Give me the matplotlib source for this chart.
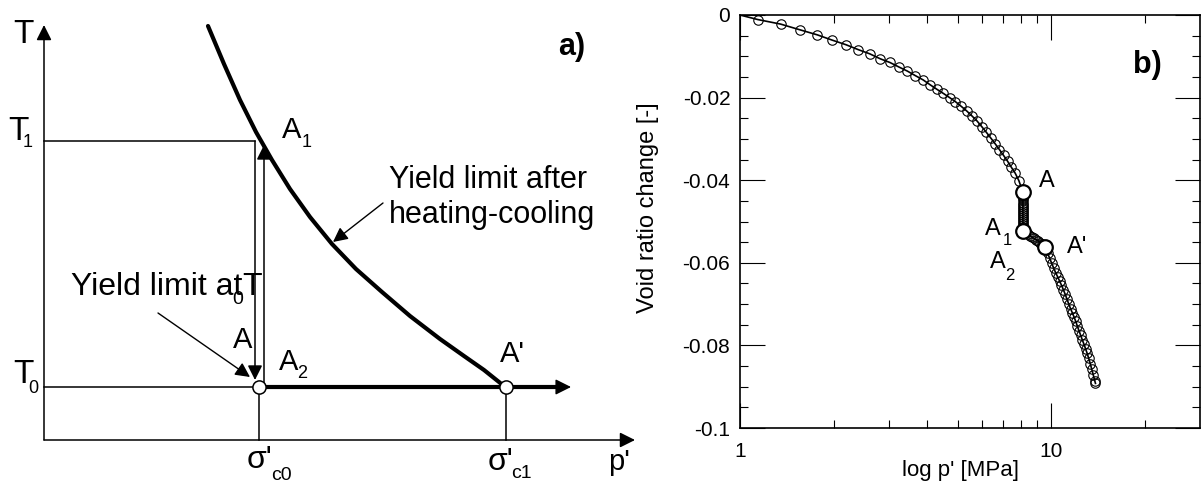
import matplotlib
matplotlib.use('Agg')
import matplotlib.pyplot as plt
from matplotlib.ticker import FixedLocator, FixedFormatter, NullFormatter

plt.rcParams['font.family'] = ['Liberation Sans', 'DejaVu Sans']

# ---------------- data: panel a) schematic (p' horizontal, T vertical) ----------------
p_axis_end = 591
T_axis_end = 415
sig_c0 = 215
sig_c1 = 462
T0 = 53
T1 = 299
heat_x = 220      # A -> A1 path (heating)
cool_x = 211      # A1 -> A2 path (cooling)
curve_p = [164, 180, 196, 212, 228, 246, 266, 288, 312, 338, 366, 396, 420, 440, 455, 461]
curve_T = [414, 376, 340, 308, 280, 251, 223, 196, 171, 148, 124, 101, 84, 70, 58, 53]

# ---------------- data: panel b) void ratio change vs log p' ----------------
p_start = [1.0]
e_start = [0.0]
p_load = [1.14, 1.35, 1.56, 1.77, 1.98, 2.19, 2.40, 2.61, 2.82, 3.03, 3.24, 3.45,
          3.66, 3.87, 4.08, 4.29, 4.50, 4.71, 4.92, 5.13, 5.34, 5.55, 5.76, 5.97,
          6.18, 6.39, 6.60, 6.81, 7.02, 7.23, 7.44, 7.65, 7.86, 8.10]
e_load = [-0.0011, -0.0022, -0.0036, -0.0048, -0.0061, -0.0072, -0.0084, -0.0094,
          -0.0106, -0.0115, -0.0126, -0.0136, -0.0147, -0.0157, -0.0169, -0.0180,
          -0.0190, -0.0200, -0.0210, -0.0221, -0.0232, -0.0244, -0.0256, -0.0270,
          -0.0284, -0.0298, -0.0312, -0.0326, -0.0340, -0.0354, -0.0369, -0.0383,
          -0.0401, -0.0429]
p_heat = [8.10] * 20
e_heat = [-0.0429, -0.0434, -0.0439, -0.0444, -0.0449, -0.0454, -0.0459, -0.0464,
          -0.0469, -0.0474, -0.0479, -0.0484, -0.0489, -0.0494, -0.0499, -0.0504,
          -0.0509, -0.0514, -0.0519, -0.0524]
p_reload = [8.10, 8.24, 8.38, 8.52, 8.66, 8.80, 8.94, 9.08, 9.22, 9.36, 9.50, 9.57]
e_reload = [-0.0524, -0.0527, -0.0531, -0.0534, -0.0538, -0.0541, -0.0544, -0.0548,
            -0.0551, -0.0555, -0.0559, -0.0562]
p_after = [9.57, 9.72, 9.87, 10.02, 10.17, 10.32, 10.47, 10.62, 10.77, 10.92, 11.07,
           11.22, 11.37, 11.52, 11.67, 11.82, 11.97, 12.12, 12.27, 12.42, 12.57, 12.72,
           12.87, 13.02, 13.17, 13.32, 13.47, 13.62, 13.77, 13.85]
e_after = [-0.0562, -0.0576, -0.0589, -0.0601, -0.0613, -0.0624, -0.0634, -0.0644,
           -0.0654, -0.0665, -0.0676, -0.0688, -0.0700, -0.0711, -0.0721, -0.0731,
           -0.0742, -0.0754, -0.0765, -0.0776, -0.0787, -0.0797, -0.0808, -0.0819,
           -0.0831, -0.0844, -0.0857, -0.0871, -0.0885, -0.0892]
key_names = ['A', 'A1', "A'"]
key_p = [8.10, 8.10, 9.57]
key_e = [-0.0429, -0.0524, -0.0562]

x_major = [1, 10]
x_major_labels = ['1', '10']
x_minor = [2, 3, 4, 5, 6, 7, 8, 9, 20]
y_major = [0, -0.02, -0.04, -0.06, -0.08, -0.1]
y_major_labels = ['0', '-0.02', '-0.04', '-0.06', '-0.08', '-0.1']
y_minor = [-0.005, -0.01, -0.015, -0.025, -0.03, -0.035, -0.045, -0.05, -0.055,
           -0.065, -0.07, -0.075, -0.085, -0.09, -0.095]

fig = plt.figure(figsize=(12.02, 4.86), dpi=100)

# ======================= panel a) =======================
axl = fig.add_axes([0, 0, 661 / 1202, 1])
axl.set_xlim(-44, 617)
axl.set_ylim(-46, 440)
axl.axis('off')


def arrow(ax, start, tip, lw=1.1, ms=23, z=3):
    ax.annotate('', xy=tip, xytext=start,
                arrowprops=dict(arrowstyle='-|>', mutation_scale=ms, lw=lw,
                                color='k', shrinkA=0, shrinkB=0),
                zorder=z)


# axes
arrow(axl, (0, 0), (0, T_axis_end))
arrow(axl, (0, 0), (p_axis_end, 0))

# thin reference lines
axl.plot([0, cool_x], [T1, T1], color='k', lw=1.1)
axl.plot([0, sig_c0], [T0, T0], color='k', lw=1.1)
axl.plot([sig_c0, sig_c0], [0, T0], color='k', lw=1.1)
axl.plot([sig_c1, sig_c1], [0, T0], color='k', lw=1.1)

# heating / cooling paths
arrow(axl, (heat_x, T0 + 4), (heat_x, T1 - 4), lw=1.1, ms=22)
arrow(axl, (cool_x, T1), (cool_x, T0 + 7), lw=1.1, ms=22)

# thick p' path at T0
axl.plot([sig_c0, p_axis_end - 78], [T0, T0], color='k', lw=3, solid_capstyle='butt')
arrow(axl, (p_axis_end - 84, T0), (p_axis_end - 64, T0), lw=1.0, ms=24)

# yield curve after heating-cooling
axl.plot(curve_p, curve_T, color='k', lw=3, solid_joinstyle='round',
         solid_capstyle='round')

# circles
axl.plot([sig_c0, sig_c1], [T0, T0], 'o', ms=9.5, mfc='white', mec='k', mew=1.1,
         zorder=6)

# annotation arrows
arrow(axl, (114, 127), (206, 63), lw=1.0, ms=22)
arrow(axl, (339, 237), (289, 198), lw=1.0, ms=22)

FS = 21
SFS = 13


def lab(x, y, main, sub=None, sx=0, sy=0, fs=FS, sfs=SFS):
    axl.text(x, y, main, fontsize=fs, ha='left', va='baseline')
    if sub is not None:
        axl.text(x + sx, y + sy, sub, fontsize=sfs, ha='left', va='baseline')


lab(-31, 397, 'T', fs=24)
lab(-36, 300, 'T', '1', 15, -7, fs=24)
lab(-31, 57, 'T', '0', 15, -10, fs=24)
lab(238, 302, 'A', '1', 20, -9)
lab(189, 92, 'A')
lab(235, 70, 'A', '2', 18, -8)
lab(456, 78, "A'")
axl.text(345, 252, 'Yield limit after', fontsize=22, ha='left', va='baseline')
axl.text(345, 217, 'heating-cooling', fontsize=22, ha='left', va='baseline')
axl.text(27, 145, 'Yield limit at', fontsize=23, ha='left', va='baseline')
axl.text(198, 145, 'T', fontsize=23, ha='left', va='baseline')
axl.text(188, 136, '0', fontsize=14, ha='left', va='baseline')
lab(203, -28, "σ'", 'c0', 24, -12, fs=23, sfs=14)
lab(444, -30, "σ'", 'c1', 23, -8, fs=23, sfs=14)
axl.text(564, -30, "p'", fontsize=21, ha='left', va='baseline')
axl.text(514, 385, 'a)', fontsize=22, fontweight='bold', ha='left', va='baseline')

# ======================= panel b) =======================
axr = fig.add_axes([740 / 1202, 58 / 486, 460 / 1202, 413 / 486])
axr.set_xscale('log')

line_p = p_start + p_load + p_heat + p_reload + p_after
line_e = e_start + e_load + e_heat + e_reload + e_after
axr.plot(line_p, line_e, '-', color='k', lw=1.2, zorder=2)
mark_p = p_load + p_heat + p_reload + p_after
mark_e = e_load + e_heat + e_reload + e_after
axr.plot(mark_p, mark_e, 'o', mfc='none', mec='k', ms=6.8, mew=0.8, zorder=3)
axr.plot(key_p, key_e, 'o', mfc='white', mec='k', ms=10.5, mew=1.6, zorder=5)

axr.set_xlim(1, 30)
axr.set_ylim(-0.1, 0)
axr.xaxis.set_major_locator(FixedLocator(x_major))
axr.xaxis.set_major_formatter(FixedFormatter(x_major_labels))
axr.xaxis.set_minor_locator(FixedLocator(x_minor))
axr.xaxis.set_minor_formatter(NullFormatter())
axr.yaxis.set_major_locator(FixedLocator(y_major))
axr.yaxis.set_major_formatter(FixedFormatter(y_major_labels))
axr.yaxis.set_minor_locator(FixedLocator(y_minor))
axr.yaxis.set_minor_formatter(NullFormatter())
axr.tick_params(which='both', direction='in', top=True, right=True, width=0.8,
                labelsize=15)
axr.tick_params(which='major', length=18)
axr.tick_params(which='minor', length=6)
axr.tick_params(axis='y', pad=7)
axr.tick_params(axis='x', pad=10)
for s in axr.spines.values():
    s.set_linewidth(1.2)

# point labels
def plab(i, txt, dx, dy, sub=None, sdx=0, sdy=0):
    axr.annotate(txt, (key_p[i], key_e[i]), xytext=(dx, dy), textcoords='offset points',
                 fontsize=17, ha='left', va='baseline')
    if sub is not None:
        axr.annotate(sub, (key_p[i], key_e[i]), xytext=(sdx, sdy),
                     textcoords='offset points', fontsize=12, ha='left', va='baseline')


plab(0, 'A', 11.5, 3.6)
plab(1, 'A', -27.4, -2.5, '1', -14.5, -9.7)
plab(1, 'A', -23.8, -26.3, '2', -13, -34.9)
plab(2, "A'", 15.8, -4.1)

fig.text(648 / 1202, 1 - 208 / 486, 'Void ratio change [-]', rotation=90,
         ha='center', va='center', fontsize=17)
fig.text(960 / 1202, 1 - 470 / 486, "log p' [MPa]", ha='center', va='center',
         fontsize=16)
fig.text(1133 / 1202, 1 - 73 / 486, 'b)', fontsize=22, fontweight='bold',
         ha='left', va='baseline')

fig.savefig('out.png', dpi=100)
